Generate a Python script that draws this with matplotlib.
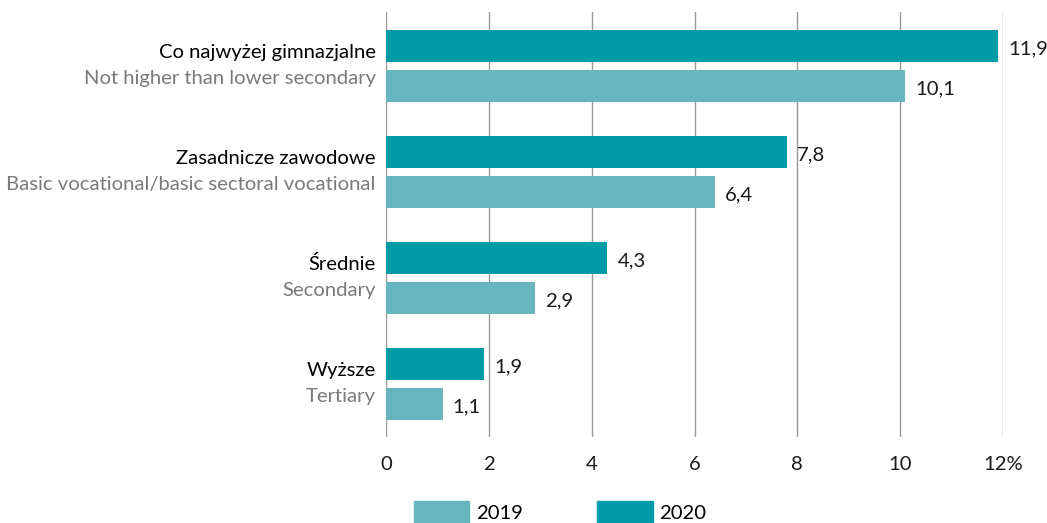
import matplotlib
matplotlib.use("Agg")
import matplotlib.pyplot as plt
from matplotlib.patches import Patch
import numpy as np

plt.rcParams['font.family'] = ['Lato', 'DejaVu Sans']

labels_pl = ["Co najwyżej gimnazjalne", "Zasadnicze zawodowe", "Średnie", "Wyższe"]
labels_en = ["Not higher than lower secondary", "Basic vocational/basic sectoral vocational",
             "Secondary", "Tertiary"]
vals_2019 = [10.1, 6.4, 2.9, 1.1]
vals_2020 = [11.9, 7.8, 4.3, 1.9]
xticks = [0, 2, 4, 6, 8, 10, 12]
xticklabels = ["0", "2", "4", "6", "8", "10", "12%"]

c2019 = "#67b5bf"
c2020 = "#009ba8"

fig = plt.figure(figsize=(10.47, 5.23), dpi=100)
ax = fig.add_axes([386/1047, 1-437/523, (1003-386)/1047, (437-12)/523])

y = np.arange(len(labels_pl))
off = 0.189
h = 0.305
ax.barh(y - off, vals_2020, height=h, color=c2020, zorder=3)
ax.barh(y + off, vals_2019, height=h, color=c2019, zorder=3)

fs = 14.6
def fmt(v):
    return f"{v:.1f}".replace(".", ",")
for i in range(len(y)):
    ax.text(vals_2020[i] + 0.2, y[i] - off + 0.03, fmt(vals_2020[i]), va='center', ha='left', fontsize=fs, color='#1a1a1a')
    ax.text(vals_2019[i] + 0.2, y[i] + off + 0.03, fmt(vals_2019[i]), va='center', ha='left', fontsize=fs, color='#1a1a1a')
    ax.text(-0.2, y[i] - 0.075, labels_pl[i], va='baseline', ha='right', fontsize=fs, color='#000000')
    ax.text(-0.2, y[i] + 0.17, labels_en[i], va='baseline', ha='right', fontsize=fs, color='#7a7a7a')

ax.set_xlim(0, 12)
ax.set_ylim(3.5, -0.509)
ax.set_xticks(xticks)
ax.set_xticklabels(xticklabels, fontsize=fs, color='#1a1a1a')
ax.set_yticks([])
ax.tick_params(axis='x', length=0, pad=14)
for x in xticks:
    ax.axvline(x, color='#9a9a9a', lw=1.0, zorder=1)
for s in ax.spines.values():
    s.set_visible(False)

handles = [Patch(color=c2019, label='2019'), Patch(color=c2020, label='2020')]
fig.legend(handles=handles, loc='center', bbox_to_anchor=(560/1047, 1-512/523), ncol=2,
           frameon=False, fontsize=fs, handlelength=2.75, handleheight=1.35,
           handletextpad=0.3, columnspacing=3.7, borderpad=0)

fig.savefig("out.png", dpi=100)
